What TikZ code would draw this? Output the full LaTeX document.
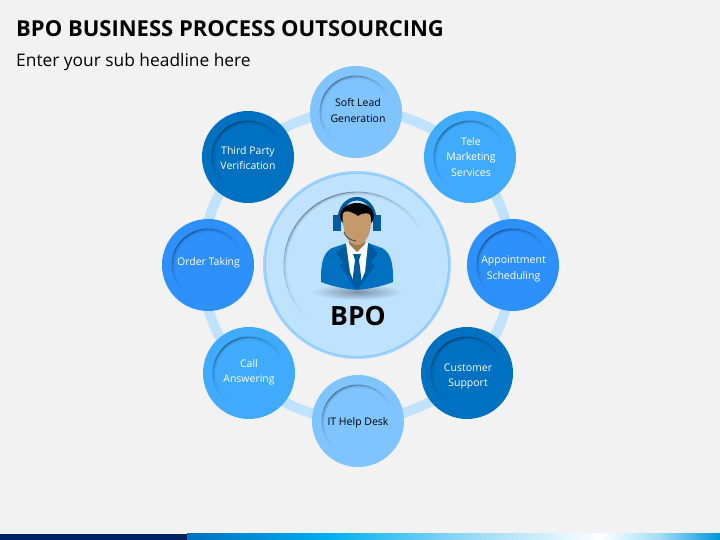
\documentclass[tikz,border=0pt]{standalone}
\usepackage{fontspec}
\setmainfont{Open Sans}
\definecolor{pagebg}{HTML}{F2F2F2}
\definecolor{skyblue}{HTML}{80C4FF}
\definecolor{midblue}{HTML}{40ABFD}
\definecolor{richblue}{HTML}{2E90FA}
\definecolor{deepblue}{HTML}{0070C0}
\definecolor{ringblue}{HTML}{BFE2FF}
\definecolor{suitdark}{HTML}{005A9E}
\definecolor{skin}{HTML}{C49A6C}
\definecolor{navyband}{HTML}{002060}
\definecolor{cyanband}{HTML}{00B0F0}
\definecolor{paleband}{HTML}{A0DDF5}
\begin{document}
\begin{tikzpicture}[x=1pt,y=-1pt]
	\tikzset{spoke/.style = {circle, minimum size=92pt, inner sep=0pt}}
	\tikzset{spokelabel/.style = {inner sep=0pt, align=center, text=white, font=\fontsize{10.5}{15.5}\selectfont}}
	
	\useasboundingbox (0,0) rectangle (720,540);
	\fill[pagebg] (0,0) rectangle (720,540);
	
	% title
	\node[anchor=west, inner sep=0pt, font=\fontsize{22}{26}\selectfont\bfseries] (title) at (16,29) {BPO BUSINESS PROCESS OUTSOURCING};
	\node[anchor=west, inner sep=0pt, font=\fontsize{17.35}{20}\selectfont] (subtitle) at (16,61.5) {Enter your sub headline here};
	
	% ring and hub
	\coordinate (middle) at (357,265);
	\draw[ringblue, line width=10pt] (middle) circle (155);
	\fill[skyblue!40!ringblue] (middle) circle (94);
	\fill[skyblue!80!ringblue] (middle) circle (92.5);
	\node[circle, fill=ringblue, minimum size=182pt, inner sep=0pt] (hub) at (middle) {};
	
	% spokes
	\node[spoke, fill=skyblue] (soft) at (356,112) {};
	\node[spoke, fill=midblue] (tele) at (470,157) {};
	\node[spoke, fill=richblue] (appoint) at (513,265) {};
	\node[spoke, fill=deepblue] (customer) at (467,373) {};
	\node[spoke, fill=skyblue] (desk) at (358,421) {};
	\node[spoke, fill=midblue] (call) at (249,373) {};
	\node[spoke, fill=richblue] (order) at (208,265) {};
	\node[spoke, fill=deepblue] (third) at (248,157) {};
	
	% dent shadows
	\foreach \n/\r in {soft/36,tele/36,appoint/36,customer/36,desk/36,call/36,order/36,third/36,hub/73} {
		\foreach \a in {-240,-230,...,-40} {
			\pgfmathsetmacro{\op}{.42*cos((\a+130)*90/115)^2}
			\draw[black, opacity=\op, line width=.9pt] ([shift={(\a:\r)}]\n.center) arc (\a:\a+10:\r);
			\draw[black, opacity=.4*\op, line width=1.2pt] ([shift={(\a:\r-1)}]\n.center) arc (\a:\a+10:\r-1);
			\draw[black, opacity=.15*\op, line width=1.4pt] ([shift={(\a:\r-2.2)}]\n.center) arc (\a:\a+10:\r-2.2);
		}
	}
	
	\node[spokelabel, text=black] (softlabel) at (358,110.5) {Soft Lead\\Generation};
	\node[spokelabel] (telelabel) at (471,157) {Tele\\Marketing\\Services};
	\node[spokelabel] (appointlabel) at (513.5,269) {Appointment\\Scheduling};
	\node[spokelabel] (customerlabel) at (468,376.5) {Customer\\Support};
	\node[spokelabel, text=black] (desklabel) at (358,423) {IT Help Desk};
	\node[spokelabel] (calllabel) at (249,372.5) {Call\\Answering};
	\node[spokelabel] (orderlabel) at (208.5,263) {Order Taking};
	\node[spokelabel] (thirdlabel) at (248,158) {Third Party\\Verification};
	
	% agent
	\shade[inner color=black!35!ringblue, outer color=ringblue] (357,292) ellipse (46 and 8);
	\draw[suitdark, line width=3.6pt] (339,222) .. controls (339,191) and (375,191) .. (375,222);
	\fill[suitdark] (333,215) rectangle (341,231);
	\fill[suitdark] (373,215) rectangle (381,231);
	\fill[deepblue] (321,277) .. controls (321,262) and (324,252) .. (332,248) -- (347,243) -- (368,243) -- (382,248) .. controls (390,252) and (393,262) .. (393,277) -- (393,282) .. controls (380,287) and (368,289) .. (357,290) .. controls (346,289) and (334,287) .. (321,282) -- cycle;
	\fill[suitdark] (347,243) -- (336,253) -- (343,262) -- (340,266) -- (357,290) -- (375,266) -- (371,262) -- (378,253) -- (368,243) -- cycle;
	\fill[white] (346,243) -- (368,243) -- (365,272) -- (357,290) -- (350,272) -- cycle;
	\fill[suitdark] (353,254) -- (361,254) -- (359,260) -- (362,284) -- (357,290) -- (352,284) -- (355,260) -- cycle;
	\fill[skin!80!black] (349,236) -- (365,236) -- (365,244) -- (357,252) -- (349,244) -- cycle;
	\fill[black] (357,216) ellipse (17 and 13);
	\fill[skin] (342.5,216) .. controls (343,208) and (352,212) .. (358,216) .. controls (364,212) and (371,212) .. (371,218) .. controls (372,232) and (366,245) .. (357,245) .. controls (348,245) and (342.5,232) .. (342.5,216) -- cycle;
	\draw[black!70, line width=.9pt] (344,232) .. controls (346,238) and (350,240) .. (356,241);
	
	\node[inner sep=0pt, font=\fontsize{26.5}{30}\selectfont\bfseries] (hubname) at (358,316) {BPO};
	
	% bottom band
	\fill[navyband] (0,533.5) rectangle (187,540);
	\shade[left color=deepblue, right color=cyanband] (187,533.5) rectangle (330,540);
	\shade[left color=cyanband, right color=paleband] (330,533.5) rectangle (480,540);
	\shade[left color=paleband, right color=white] (480,533.5) rectangle (600,540);
	\shade[left color=white, right color=paleband] (600,533.5) rectangle (660,540);
	\shade[left color=paleband, right color=cyanband!60!deepblue] (660,533.5) rectangle (720,540);
\end{tikzpicture}
\end{document}
